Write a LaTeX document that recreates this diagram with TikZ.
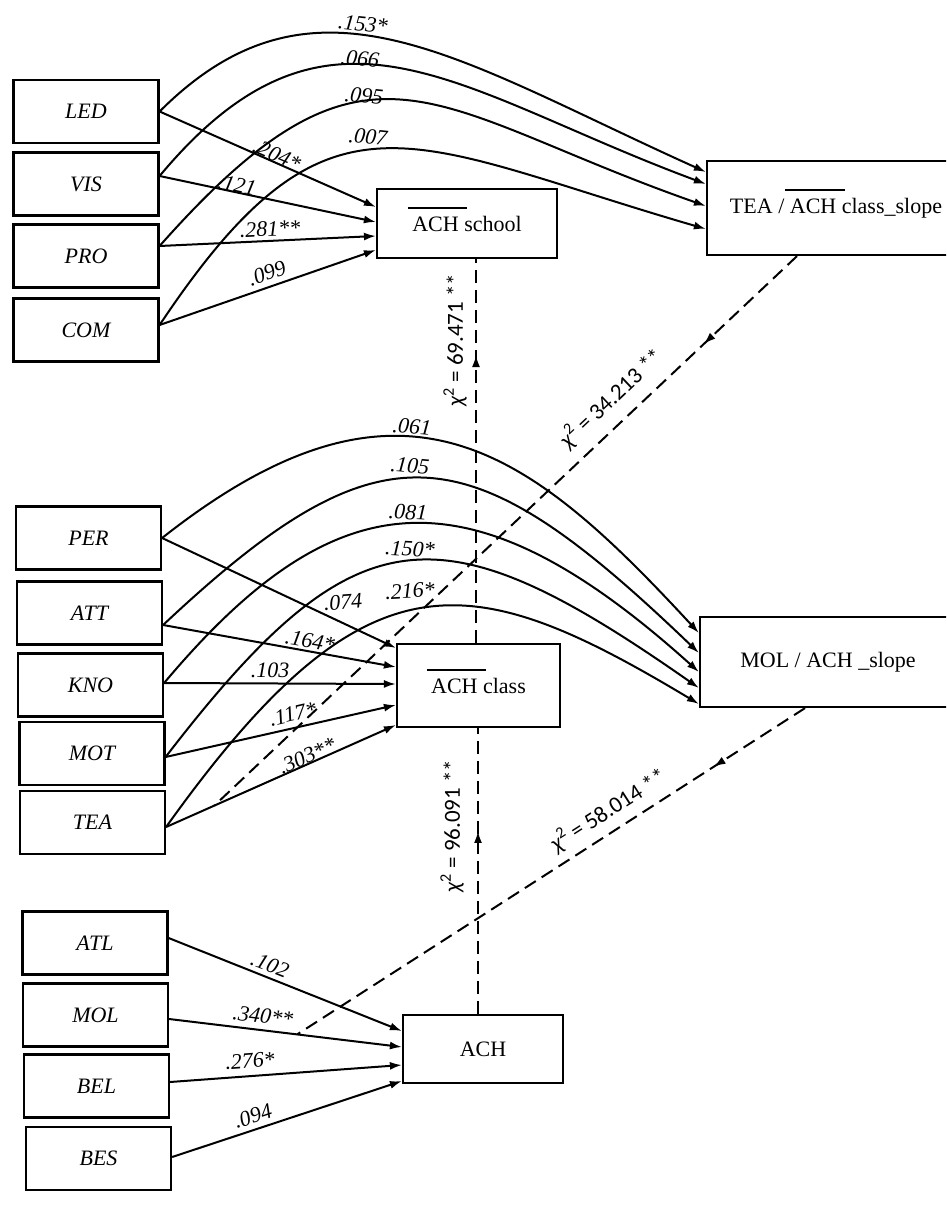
\documentclass[tikz,border=0pt]{standalone}
\usepackage{fontspec}
\setmainfont{Liberation Serif}
\newfontfamily\chifont{Carlito}
\usetikzlibrary{arrows.meta,decorations.markings}
\newcommand\ovACH{\leavevmode\rlap{\hspace*{-0.2em}\smash{\raisebox{1.02em}{\rule{2.7em}{0.08em}}}}ACH}
\begin{document}
\begin{tikzpicture}[x=1pt,y=-1pt,
  box/.style={draw,line width=2.2pt,minimum width=145pt,minimum height=63pt,inner sep=0pt,font=\fontsize{22}{24}\selectfont\itshape},
  tbox/.style={draw,line width=2.2pt,inner sep=0pt,font=\fontsize{22}{24}\selectfont},
  pth/.style={line width=2pt,-{Latex[length=12pt,width=8pt]}},
  coef/.style={font=\fontsize{22}{24}\selectfont\itshape,inner sep=1pt},
  chi/.style={font=\fontsize{23}{25}\selectfont\chifont,inner sep=1pt},
  dsh/.style={line width=2pt,dash pattern=on 13pt off 7pt},
  midarrow/.style={postaction={decorate},decoration={markings,mark=at position #1 with {\arrow{Latex[length=12pt,width=8pt]}}}}
]
\clip (0,0) rectangle (946,1210);
\fill[white] (0,0) rectangle (946,1210);

% left boxes
\node[box] (LED) at (86,111.5) {LED};
\node[box] (VIS) at (86,184) {VIS};
\node[box] (PRO) at (86,256) {PRO};
\node[box] (COM) at (86,330) {COM};
\node[box] (PER) at (88.5,538) {PER};
\node[box] (ATT) at (89.5,613) {ATT};
\node[box] (KNO) at (90.5,685) {KNO};
\node[box] (MOT) at (92,753.5) {MOT};
\node[box] (TEA) at (92.5,822.5) {TEA};
\node[box] (ATL) at (95,943) {ATL};
\node[box] (MOL) at (95.5,1015) {MOL};
\node[box] (BEL) at (96.5,1086) {BEL};
\node[box] (BES) at (98.5,1158.5) {BES};

% target boxes
\node[tbox,minimum width=180pt,minimum height=69pt] (ACHs) at (467,223.5) {\ovACH\ school};
\node[tbox,minimum width=258pt,minimum height=94pt] (TEAs) at (836,208) {TEA / \ovACH\ class\_slope};
\node[tbox,minimum width=163pt,minimum height=83pt] (ACHc) at (478.5,685.5) {\ovACH\ class};
\node[tbox,minimum width=256pt,minimum height=90pt] (MOLs) at (828,662) {MOL / ACH \_slope};
\node[tbox,minimum width=160pt,minimum height=68pt] (ACH) at (483,1049) {ACH};

% start points
\coordinate (sLED) at (LED.east);
\coordinate (sVIS) at ([yshift=8pt]VIS.east);
\coordinate (sPRO) at ([yshift=10pt]PRO.east);
\coordinate (sCOM) at ([yshift=5pt]COM.east);
\coordinate (sPER) at (PER.east);
\coordinate (sATT) at ([yshift=-12pt]ATT.east);
\coordinate (sKNO) at ([yshift=2pt]KNO.east);
\coordinate (sMOT) at ([yshift=-3.5pt]MOT.east);
\coordinate (sTEA) at ([yshift=-4.5pt]TEA.east);
\coordinate (sATL) at ([yshift=5pt]ATL.east);
\coordinate (sMOL) at ([yshift=-4pt]MOL.east);
\coordinate (sBEL) at ([yshift=4pt]BEL.east);
\coordinate (sBES) at ([yshift=1.5pt]BES.east);

% end points
\coordinate (eS1) at ([yshift=16.5pt]ACHs.west);
\coordinate (eS2) at ([yshift=1.5pt]ACHs.west);
\coordinate (eS3) at ([yshift=-12.5pt]ACHs.west);
\coordinate (eS4) at ([yshift=-26.5pt]ACHs.west);
\coordinate (eT1) at ([yshift=36pt]TEAs.west);
\coordinate (eT2) at ([yshift=24pt]TEAs.west);
\coordinate (eT3) at ([yshift=2pt]TEAs.west);
\coordinate (eT4) at ([yshift=-21pt]TEAs.west);
\coordinate (eC1) at ([yshift=37.5pt]ACHc.west);
\coordinate (eC2) at ([yshift=18.5pt]ACHc.west);
\coordinate (eC3) at ([yshift=1.5pt]ACHc.west);
\coordinate (eC4) at ([yshift=-19.5pt]ACHc.west);
\coordinate (eC5) at ([yshift=-39.5pt]ACHc.west);
\coordinate (eM1) at ([yshift=29pt]MOLs.west);
\coordinate (eM2) at ([yshift=9pt]MOLs.west);
\coordinate (eM3) at ([yshift=-10pt]MOLs.west);
\coordinate (eM4) at ([yshift=-26pt]MOLs.west);
\coordinate (eM5) at ([yshift=-42pt]MOLs.west);
\coordinate (eA1) at ([yshift=18pt]ACH.west);
\coordinate (eA2) at ([yshift=2pt]ACH.west);
\coordinate (eA3) at ([yshift=-16pt]ACH.west);
\coordinate (eA4) at ([yshift=-32pt]ACH.west);

% top group curves to TEA slope
\draw[pth] (sLED) .. controls +(155,-155) and +(-250,-112.5) .. (eT1);
\draw[pth] (sVIS) .. controls +(170,-204) and +(-250,-92.5) .. (eT2);
\draw[pth] (sPRO) .. controls +(210,-237) and +(-280,-98) .. (eT3);
\draw[pth] (sCOM) .. controls +(170,-255) and +(-300,-87) .. (eT4);
% top group straight paths
\draw[pth] (sLED) -- (eS1);
\draw[pth] (sVIS) -- (eS2);
\draw[pth] (sPRO) -- (eS3);
\draw[pth] (sCOM) -- (eS4);

% middle group curves to MOL slope
\draw[pth] (sPER) .. controls +(240,-189.6) and +(-170,-184) .. (eM1);
\draw[pth] (sATT) .. controls +(220,-206.8) and +(-230,-220.8) .. (eM2);
\draw[pth] (sKNO) .. controls +(170,-202.3) and +(-230,-207) .. (eM3);
\draw[pth] (sMOT) .. controls +(190,-247) and +(-260,-182) .. (eM4);
\draw[pth] (sTEA) .. controls +(200,-280) and +(-230,-138) .. (eM5);
% middle straight paths
\draw[pth] (sPER) -- (eC1);
\draw[pth] (sATT) -- (eC2);
\draw[pth] (sKNO) -- (eC3);
\draw[pth] (sMOT) -- (eC4);
\draw[pth] (sTEA) -- coordinate[pos=0.21] (pTEA) (eC5);

% bottom straight paths
\draw[pth] (sATL) -- (eA1);
\draw[pth] (sMOL) -- coordinate[pos=0.55] (pMOL) (eA2);
\draw[pth] (sBEL) -- (eA3);
\draw[pth] (sBES) -- (eA4);

% dashed links
\coordinate (v1) at (476,0);
\coordinate (v2) at (478,0);
\coordinate (d1) at (797,0);
\coordinate (d2) at (805,0);
\draw[dsh,midarrow=0.75] (ACHc.north -| v1) -- (ACHs.south -| v1);
\draw[dsh,midarrow=0.64] (ACH.north -| v2) -- (ACHc.south -| v2);
\draw[dsh,midarrow=0.16] (TEAs.south -| d1) -- (pTEA);
\draw[dsh,midarrow=0.18] (MOLs.south -| d2) -- (pMOL);

% coefficient labels
\node[coef,rotate=-6] (k1) at (363,24) {.153*};
\node[coef,rotate=-6] (k2) at (360,59) {.066};
\node[coef,rotate=-6] (k3) at (364,96) {.095};
\node[coef,rotate=-6] (k4) at (368,137) {.007};
\node[coef,rotate=-23.7] (k5) at (277,155) {.204*};
\node[coef,rotate=-11.9] (k6) at (237,185) {.121};
\node[coef,rotate=2.6] (k7) at (270,229) {.281**};
\node[coef,rotate=19] (k8) at (267,273) {.099};

\node[coef,rotate=-5] (m1) at (412,427) {.061};
\node[coef,rotate=-5] (m2) at (410,466) {.105};
\node[coef,rotate=-3] (m3) at (408,512) {.081};
\node[coef,rotate=-3] (m4) at (410,549) {.150*};
\node[coef,rotate=3] (m5) at (410,591) {.216*};
\node[coef,rotate=4] (m6) at (343,602) {.074};
\node[coef,rotate=-10] (m7) at (310,641) {.164*};
\node[coef] (m8) at (270,670) {.103};
\node[coef,rotate=13] (m9) at (293,714) {.117*};
\node[coef,rotate=24] (m10) at (307,756) {.303**};

\node[coef,rotate=-21.8] (b1) at (270,965) {.102};
\node[coef,rotate=-7] (b2) at (263,1016) {.340**};
\node[coef,rotate=4.2] (b3) at (250,1061) {.276*};
\node[coef,rotate=18.4] (b4) at (253,1116) {.094};

% chi-square labels
\node[chi,rotate=90] (x1) at (455,340) {{\itshape χ}\textsuperscript{2} = 69.471 **};
\node[chi,rotate=90] (x2) at (452,826) {{\itshape χ}\textsuperscript{2} = 96.091 **};
\node[chi,rotate=43.4] (x3) at (611,398) {{\itshape χ}\textsuperscript{2} = 34.213 **};
\node[chi,rotate=32.7] (x4) at (608,810) {{\itshape χ}\textsuperscript{2} = 58.014 **};
\end{tikzpicture}
\end{document}
